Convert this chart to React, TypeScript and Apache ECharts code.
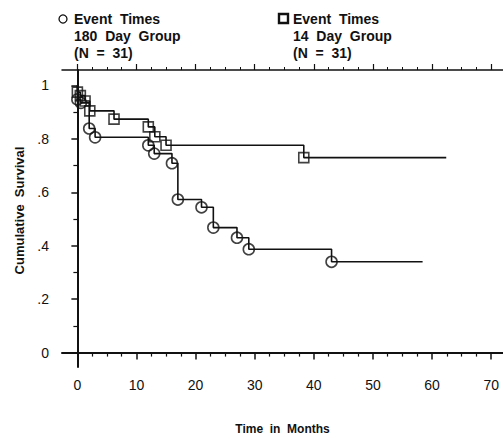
import React, { useEffect, useRef } from "react";
import * as echarts from "echarts";

// 180 Day Group (circles): event times (months) and cumulative survival after each event
const months180 = [0, 0.6, 2, 3, 12, 13, 16, 17, 21, 23, 27, 29, 43];
const surv180 = [0.948, 0.935, 0.839, 0.806, 0.776, 0.745, 0.709, 0.573, 0.544, 0.468, 0.43, 0.387, 0.34];
const lastFollowUp180 = 58.4;

// 14 Day Group (squares)
const months14 = [0, 0.5, 1.3, 2.1, 6.2, 12, 13.1, 15, 38.3];
const surv14 = [0.975, 0.962, 0.942, 0.905, 0.874, 0.845, 0.808, 0.776, 0.73];
const lastFollowUp14 = 62.4;

const xMajorTicks = [0, 10, 20, 30, 40, 50, 60, 70];
const xMinorTicks = [2.5, 5, 7.5, 12.5, 15, 17.5, 22.5, 25, 27.5, 32.5, 35, 37.5, 42.5, 45, 47.5, 52.5, 55, 57.5, 62.5, 65, 67.5];
const yMajorTicks = [0, 0.2, 0.4, 0.6, 0.8, 1];
const yMinorTicks = [0.1, 0.3, 0.5, 0.7, 0.9];

const INK = "#111";
const FONT = "'Liberation Sans', Arial, Helvetica, sans-serif";

function stepData(months: number[], surv: number[], last: number) {
  const pts: number[][] = [[0, 1]];
  months.forEach((m, i) => pts.push([m, surv[i]]));
  pts.push([last, surv[surv.length - 1]]);
  return pts;
}

const fmtY = (v: number) => {
  if (Math.abs(v) < 1e-9) return "0";
  if (Math.abs(v - 1) < 1e-9) return "1";
  return "." + Math.round(v * 10);
};

export default function App() {
  const ref = useRef<HTMLDivElement>(null);
  useEffect(() => {
    if (!ref.current) return;
    const chart = echarts.init(ref.current, undefined, { renderer: "svg" });
    const xMin = -2.6, xMax = 72;
    const baseX = {
      type: "value" as const,
      min: xMin,
      max: xMax,
      splitLine: { show: false },
    };
    chart.setOption({
      animation: false,
      backgroundColor: "#fff",
      textStyle: { fontFamily: FONT, color: INK },
      grid: { left: 62, right: 0, top: 70, bottom: 64, containLabel: false },
      xAxis: [
        {
          ...baseX,
          position: "bottom",
          axisLine: { show: true, lineStyle: { color: INK, width: 2 } },
          axisTick: { show: true, customValues: xMajorTicks, length: 7, lineStyle: { color: INK, width: 1.5 } },
          axisLabel: { show: true, customValues: xMajorTicks, fontSize: 14, margin: 11, color: INK, fontFamily: FONT },
          name: "Time  in  Months",
          nameLocation: "middle",
          nameGap: 56,
          nameTextStyle: { fontSize: 12, fontWeight: "bold", color: INK, fontFamily: FONT },
        },
        {
          ...baseX,
          position: "bottom",
          axisLine: { show: false },
          axisTick: { show: true, customValues: xMinorTicks, length: 4, lineStyle: { color: INK, width: 1.2 } },
          axisLabel: { show: false },
        },
        {
          ...baseX,
          position: "top",
          axisLine: { show: true, lineStyle: { color: INK, width: 1.5 } },
          axisTick: { show: true, customValues: xMajorTicks, length: 6, lineStyle: { color: INK, width: 1.2 } },
          axisLabel: { show: false },
        },
        {
          ...baseX,
          position: "top",
          axisLine: { show: false },
          axisTick: { show: true, customValues: xMinorTicks, length: 3, lineStyle: { color: INK, width: 1 } },
          axisLabel: { show: false },
        },
      ],
      yAxis: [
        {
          type: "value",
          min: -0.054,
          max: 1.058,
          position: "left",
          splitLine: { show: false },
          axisLine: { show: true, lineStyle: { color: INK, width: 2 } },
          axisTick: { show: true, customValues: yMajorTicks, length: 6, lineStyle: { color: INK, width: 1.5 } },
          axisLabel: { show: true, customValues: yMajorTicks, fontSize: 14, margin: 13, color: INK, fontFamily: FONT, formatter: fmtY },
          name: "Cumulative  Survival",
          nameLocation: "middle",
          nameGap: 34,
          nameRotate: 90,
          nameTextStyle: { fontSize: 13, fontWeight: "bold", color: INK, fontFamily: FONT, padding: [0, 0, 0, 16] },
        },
        {
          type: "value",
          min: -0.054,
          max: 1.058,
          position: "left",
          splitLine: { show: false },
          axisLine: { show: false },
          axisTick: { show: true, customValues: yMinorTicks, length: 4, lineStyle: { color: INK, width: 1.2 } },
          axisLabel: { show: false },
        },
      ],
      series: [
        {
          type: "line",
          step: "end",
          data: stepData(months180, surv180, lastFollowUp180),
          showSymbol: false,
          lineStyle: { color: INK, width: 1.6 },
          xAxisIndex: 0,
          yAxisIndex: 0,
          z: 2,
        },
        {
          type: "line",
          step: "end",
          data: stepData(months14, surv14, lastFollowUp14),
          showSymbol: false,
          lineStyle: { color: INK, width: 1.6 },
          xAxisIndex: 0,
          yAxisIndex: 0,
          z: 2,
        },
        {
          type: "scatter",
          data: months180.map((m, i) => [m, surv180[i]]),
          symbol: "circle",
          symbolSize: 11,
          itemStyle: { color: "rgba(0,0,0,0)", borderColor: INK, borderWidth: 1.6 },
          xAxisIndex: 0,
          yAxisIndex: 0,
          z: 3,
        },
        {
          type: "scatter",
          data: months14.map((m, i) => [m, surv14[i]]),
          symbol: "rect",
          symbolSize: 10,
          itemStyle: { color: "rgba(0,0,0,0)", borderColor: INK, borderWidth: 1.6 },
          xAxisIndex: 0,
          yAxisIndex: 0,
          z: 3,
        },
      ],
      graphic: [
        { type: "circle", shape: { cx: 63, cy: 19, r: 4 }, style: { fill: "none", stroke: INK, lineWidth: 1.3 } },
        {
          type: "text",
          x: 74,
          y: 10,
          style: {
            text: "Event  Times\n180  Day  Group\n(N  =  31)",
            font: `bold 14px ${FONT}`,
            lineHeight: 17,
            fill: INK,
          },
        },
        { type: "rect", shape: { x: 279, y: 14, width: 9, height: 9 }, style: { fill: "none", stroke: INK, lineWidth: 2.4 } },
        {
          type: "text",
          x: 293,
          y: 10,
          style: {
            text: "Event  Times\n14  Day  Group\n(N  =  31)",
            font: `bold 14px ${FONT}`,
            lineHeight: 17,
            fill: INK,
          },
        },
      ],
    });
    return () => chart.dispose();
  }, []);
  return (
    <div
      ref={ref}
      style={{ position: "fixed", left: 0, top: 0, width: 503, height: 440, background: "#fff" }}
    />
  );
}
